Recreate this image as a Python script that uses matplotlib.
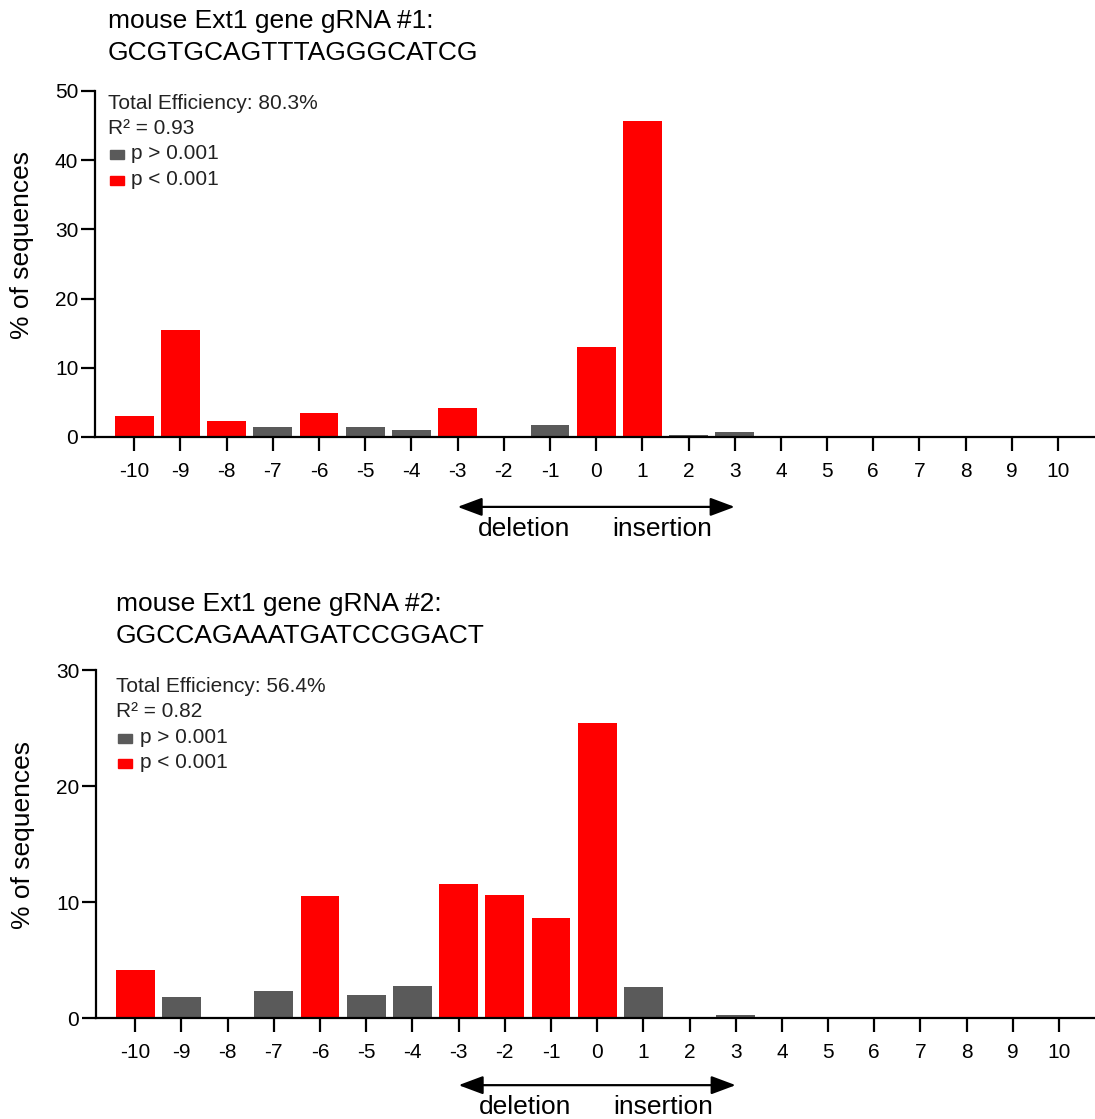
import matplotlib.pyplot as plt
from matplotlib.patches import Rectangle
from matplotlib.transforms import blended_transform_factory

plt.rcParams['font.family'] = ['Liberation Sans', 'DejaVu Sans']
plt.rcParams['axes.unicode_minus'] = False

# indel sizes shown on the x axis
indel = list(range(-10, 11))

# gRNA #1
title1 = 'mouse Ext1 gene gRNA #1:'
seq1 = 'GCGTGCAGTTTAGGGCATCG'
eff1 = 'Total Efficiency: 80.3%'
r2_1 = 'R² = 0.93'
pct1 = [3.0, 15.5, 2.3, 1.4, 3.5, 1.4, 1.0, 4.2, 0.1, 1.7, 13.0, 45.7, 0.3, 0.7,
        0, 0, 0, 0, 0, 0, 0]
sig1 = [1, 1, 1, 0, 1, 0, 0, 1, 0, 0, 1, 1, 0, 0,
        0, 0, 0, 0, 0, 0, 0]

# gRNA #2
title2 = 'mouse Ext1 gene gRNA #2:'
seq2 = 'GGCCAGAAATGATCCGGACT'
eff2 = 'Total Efficiency: 56.4%'
r2_2 = 'R² = 0.82'
pct2 = [4.1, 1.8, 0, 2.3, 10.5, 2.0, 2.8, 11.55, 10.6, 8.6, 25.4, 2.7, 0, 0.25,
        0, 0, 0, 0, 0, 0, 0]
sig2 = [1, 0, 0, 0, 1, 0, 0, 1, 1, 1, 1, 0, 0, 0,
        0, 0, 0, 0, 0, 0, 0]

RED = '#ff0000'
GREY = '#5a5a5a'

W, H = 1095, 1119
fig = plt.figure(figsize=(W / 100, H / 100), dpi=100)


def panel(rect, vals, sig, ymax, ystep, title, seq, eff, r2, tx, tb, lab_y, leg, arr_y):
    ax = fig.add_axes(rect)
    colors = [RED if s else GREY for s in sig]
    ax.bar(indel, vals, width=0.84, color=colors, zorder=2)
    ax.set_xlim(-10.85, 10.8)
    ax.set_ylim(0, ymax)
    ax.set_xticks(indel)
    ax.set_yticks(range(0, ymax + 1, ystep))
    for s in ['top', 'right']:
        ax.spines[s].set_visible(False)
    for s in ['left', 'bottom']:
        ax.spines[s].set_linewidth(1.6)
    ax.tick_params(axis='x', length=10, width=1.6, labelsize=15, pad=8)
    ax.tick_params(axis='y', length=10, width=1.6, labelsize=15, pad=2)
    ax.set_ylabel('% of sequences', fontsize=19)
    ax.yaxis.set_label_coords(-0.061, lab_y)

    # legend block written as text + small squares
    lx, ly, sx = leg
    lines = [eff, r2, 'p > 0.001', 'p < 0.001']
    for i, t in enumerate(lines):
        x = lx if i < 2 else sx
        ax.text(x, ly[i], t, transform=ax.transAxes, fontsize=15,
                va='center', ha='left', color='#222222')
    for i, c in zip([2, 3], [GREY, RED]):
        ax.add_patch(Rectangle((lx + 0.002, ly[i] - 0.0155), 0.014, 0.026,
                               transform=ax.transAxes, color=c, clip_on=False))

    # titles
    fig.text(tx / W, 1 - tb[0] / H, title, fontsize=19, va='baseline', ha='left')
    fig.text(tx / W, 1 - tb[1] / H, seq, fontsize=19, va='baseline', ha='left')

    # deletion / insertion arrow
    tr = blended_transform_factory(ax.transData, ax.transAxes)
    ax.annotate('', xy=(3.0, arr_y), xytext=(-3.0, arr_y), xycoords=tr, textcoords=tr,
                arrowprops=dict(arrowstyle='<|-|>,head_length=0.75,head_width=0.28',
                                color='black', lw=1.6, mutation_scale=20,
                                shrinkA=0, shrinkB=0),
                annotation_clip=False)
    ax.text(-1.57, arr_y - 0.064, 'deletion', transform=tr, fontsize=19,
            ha='center', va='center', clip_on=False)
    ax.text(1.44, arr_y - 0.064, 'insertion', transform=tr, fontsize=19,
            ha='center', va='center', clip_on=False)
    return ax


panel([95 / W, 1 - 437 / H, 1000 / W, 346 / H], pct1, sig1, 50, 10,
      title1, seq1, eff1, r2_1, 108, (28, 60), 0.555,
      (0.013, [0.965, 0.893, 0.818, 0.743], 0.036), -0.202)

panel([96 / W, 1 - 1018 / H, 1000 / W, 348 / H], pct2, sig2, 30, 10,
      title2, seq2, eff2, r2_2, 116, (611, 643), 0.526,
      (0.02, [0.954, 0.882, 0.807, 0.733], 0.044), -0.193)

fig.savefig('out.png', dpi=100)
